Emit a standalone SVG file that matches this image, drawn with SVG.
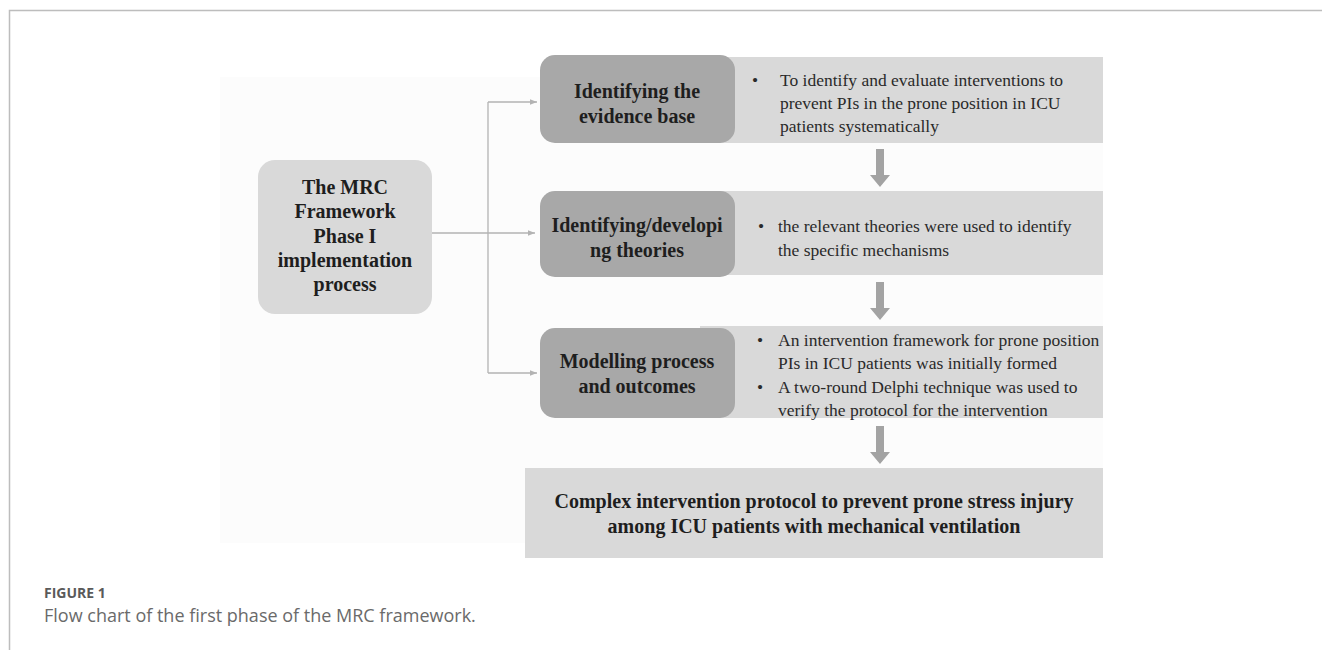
<svg xmlns="http://www.w3.org/2000/svg" width="1322" height="650" viewBox="0 0 1322 650">
<defs>
<style>
.frame{stroke:#bdbdbd;stroke-width:1.5;fill:none}
.dark{fill:#a8a8a8}
.light{fill:#d9d9d9}
.conn{stroke:#b3b3b3;stroke-width:1.3;fill:none}
.down{fill:#a3a3a3}
.hb{font-family:"Liberation Serif","Times New Roman",serif;font-weight:bold;font-size:20px;fill:#1e1e1e;text-anchor:middle}
.tx{font-family:"Liberation Serif","Times New Roman",serif;font-size:17.5px;fill:#2a2a2a}
.cap1{font-family:"Open Sans","Noto Sans",sans-serif;font-weight:bold;font-size:14px;fill:#5a5a5a}
.cap2{font-family:"Open Sans","Noto Sans",sans-serif;font-size:18px;fill:#6a6a6a}
</style>
<marker id="ah" viewBox="0 0 10 10" refX="10" refY="5" markerWidth="7" markerHeight="7" markerUnits="userSpaceOnUse" orient="auto">
<path d="M0,1 L10,5 L0,9 Z" fill="#b3b3b3"/>
</marker>
<path id="dnArrow" d="M-4,0 H4 V26 H10 L0,38 L-10,26 H-4 Z"/>
</defs>
<rect width="1322" height="650" fill="#ffffff"/>
<rect x="220" y="77" width="883" height="466" fill="#fcfcfc"/>
<path class="frame" d="M9.5,650 V10.5 H1322"/>

<g id="connectors">
<path class="conn" d="M432,233 H535" marker-end="url(#ah)"/>
<path class="conn" d="M488,102 V373"/>
<path class="conn" d="M488,102 H537" marker-end="url(#ah)"/>
<path class="conn" d="M488,373 H537" marker-end="url(#ah)"/>
<use href="#dnArrow" class="down" x="880" y="149"/>
<use href="#dnArrow" class="down" x="880" y="282"/>
<use href="#dnArrow" class="down" x="880" y="426"/>
</g>

<g id="node-mrc">
<rect class="light" x="258" y="160" width="174" height="154" rx="17"/>
<text class="hb" x="345" y="194">The MRC</text>
<text class="hb" x="345" y="218">Framework</text>
<text class="hb" x="345" y="243">Phase I</text>
<text class="hb" x="345" y="267">implementation</text>
<text class="hb" x="345" y="291">process</text>
</g>

<g id="node-evidence">
<rect class="light" x="700" y="57" width="403" height="86"/>
<rect class="dark" x="540" y="55" width="195" height="88" rx="15"/>
<text class="hb" x="637" y="98">Identifying the</text>
<text class="hb" x="637" y="123">evidence base</text>
<text class="tx" x="752" y="86">•</text>
<text class="tx" x="780" y="86">To identify and evaluate interventions to</text>
<text class="tx" x="780" y="109">prevent PIs in the prone position in ICU</text>
<text class="tx" x="780" y="132">patients systematically</text>
</g>

<g id="node-theories">
<rect class="light" x="700" y="191" width="403" height="84"/>
<rect class="dark" x="540" y="191" width="195" height="86" rx="15"/>
<text class="hb" x="637" y="232">Identifying/developi</text>
<text class="hb" x="637" y="257">ng theories</text>
<text class="tx" x="758" y="232">•</text>
<text class="tx" x="778" y="232">the relevant theories were used to identify</text>
<text class="tx" x="778" y="256">the specific mechanisms</text>
</g>

<g id="node-modelling">
<rect class="light" x="700" y="326" width="403" height="92"/>
<rect class="dark" x="540" y="328" width="195" height="90" rx="15"/>
<text class="hb" x="637" y="368">Modelling process</text>
<text class="hb" x="637" y="393">and outcomes</text>
<text class="tx" x="757" y="346">•</text>
<text class="tx" x="778" y="346">An intervention framework for prone position</text>
<text class="tx" x="778" y="369">PIs in ICU patients was initially formed</text>
<text class="tx" x="757" y="393">•</text>
<text class="tx" x="778" y="393">A two-round Delphi technique was used to</text>
<text class="tx" x="778" y="416">verify the protocol for the intervention</text>
</g>

<g id="node-protocol">
<rect class="light" x="525" y="468" width="578" height="90"/>
<text class="hb" x="814" y="508">Complex intervention protocol to prevent prone stress injury</text>
<text class="hb" x="814" y="533">among ICU patients with mechanical ventilation</text>
</g>

<g id="caption">
<text class="cap1" x="44" y="598">FIGURE 1</text>
<text class="cap2" x="44" y="622">Flow chart of the first phase of the MRC framework.</text>
</g>
</svg>
